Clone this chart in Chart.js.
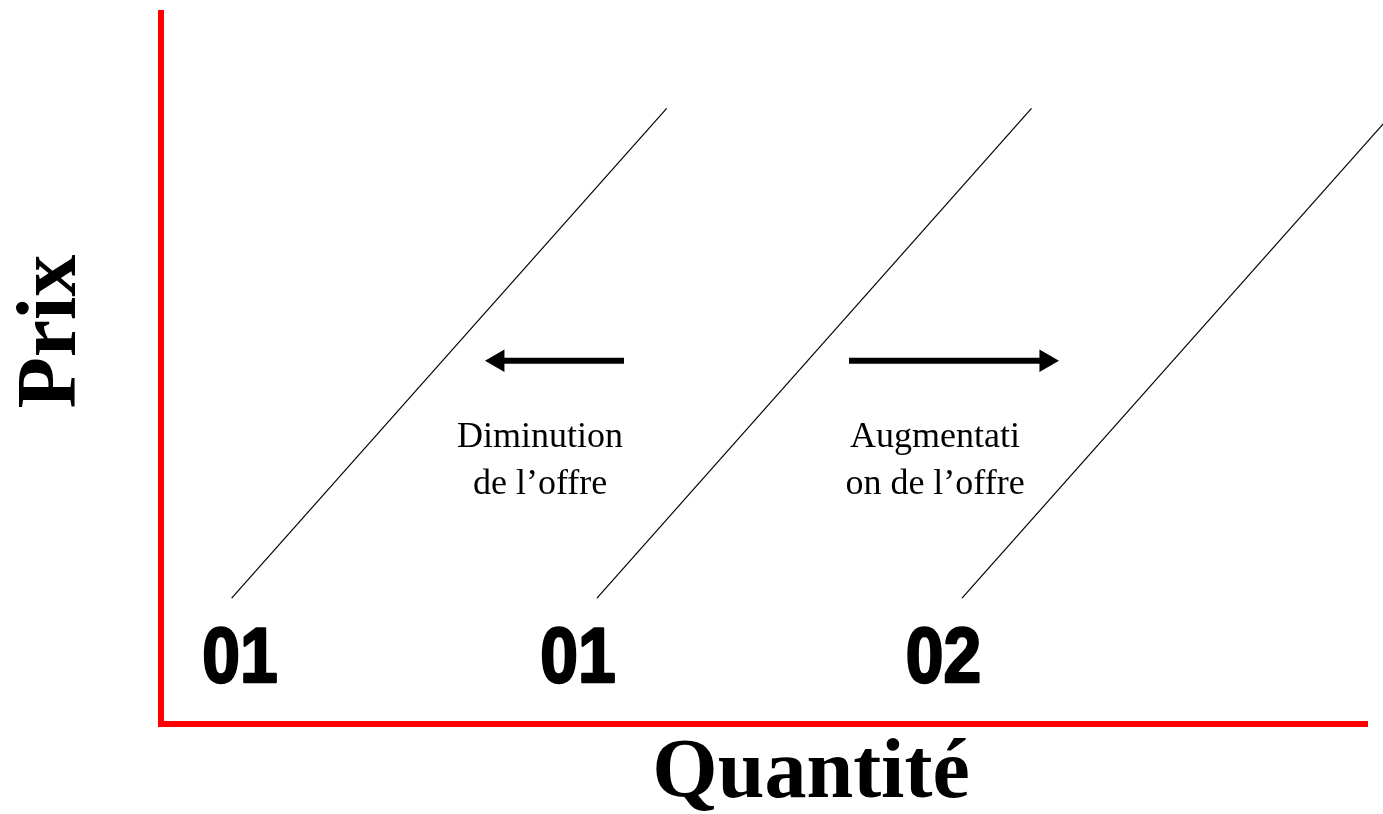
<!DOCTYPE html>
<html>
<head>
<meta charset="utf-8">
<script src="https://cdn.jsdelivr.net/npm/chart.js@4.4.1/dist/chart.umd.min.js"></script>
<style>
  html, body { margin: 0; padding: 0; background: #ffffff; }
  #wrap { width: 1383px; height: 814px; }
</style>
</head>
<body>
<div id="wrap"><canvas id="c" width="1383" height="814"></canvas></div>
<script>
// ---- Data (axis units 0..100) ----
const curveNames = ["O1 (diminution)", "O1", "O2"];
const curveStartX = [5.86, 36.15, 66.42];
const curveEndX   = [41.93, 72.18, 102.5];
const curveStartY = 17.7;
const curveEndY   = 86.6;

const arrowFromX = [38.39, 57.05];
const arrowToX   = [27.94, 73.38];
const arrowY     = [51.1, 51.1];
const arrowDir   = [-90, 90];

const curveLabels  = ["01", "01", "02"];
const curveLabelX  = [6.55, 34.58, 64.88];
const curveLabelY  = 5.9;

const noteLines = [["Diminution", "de l\u2019offre"], ["Augmentati", "on de l\u2019offre"]];
const noteX = [31.43, 64.18];
const noteY = [39.0, 32.4];

const xTitle = "Quantit\u00e9";
const yTitle = "Prix";

// ---- Datasets built from the arrays ----
const datasets = [];
curveNames.forEach((name, i) => {
  datasets.push({
    label: name,
    data: [{x: curveStartX[i], y: curveStartY}, {x: curveEndX[i], y: curveEndY}],
    showLine: true,
    borderColor: "#000000",
    borderWidth: 1.2,
    pointRadius: 0,
    clip: false
  });
});
arrowFromX.forEach((fx, i) => {
  datasets.push({
    label: "arrow" + i,
    data: [{x: fx, y: arrowY[i]}, {x: arrowToX[i], y: arrowY[i]}],
    showLine: true,
    borderColor: "#000000",
    borderWidth: 6,
    borderCapStyle: "butt",
    pointRadius: [0, 13],
    pointStyle: "triangle",
    rotation: [0, arrowDir[i]],
    pointBackgroundColor: "#000000",
    pointBorderColor: "#000000",
    pointBorderWidth: 0,
    clip: false
  });
});

const textPlugin = {
  id: "texts",
  afterDraw(chart) {
    const {ctx, scales: {x, y}} = chart;
    ctx.save();
    ctx.textAlign = "center";
    ctx.textBaseline = "alphabetic";
    ctx.fillStyle = "#000";
    ctx.strokeStyle = "#000";
    // curve labels 01 / 01 / 02
    ctx.font = "bold 77px 'Liberation Sans', Arial, sans-serif";
    ctx.lineWidth = 2.5;
    ctx.lineJoin = "round";
    curveLabels.forEach((t, i) => {
      const px = x.getPixelForValue(curveLabelX[i]);
      const py = y.getPixelForValue(curveLabelY);
      ctx.save();
      ctx.translate(px, py);
      ctx.scale(0.88, 1);
      ctx.strokeText(t, 0, 0);
      ctx.fillText(t, 0, 0);
      ctx.restore();
    });
    // notes
    ctx.font = "36px 'Liberation Serif', 'Times New Roman', serif";
    noteLines.forEach((lines, i) => {
      lines.forEach((t, j) => {
        ctx.fillText(t, x.getPixelForValue(noteX[i]), y.getPixelForValue(noteY[j]));
      });
    });
    // axis titles
    ctx.font = "bold 84px 'Liberation Serif', 'Times New Roman', serif";
    ctx.fillText(xTitle, x.getPixelForValue(53.9), 797);
    ctx.save();
    ctx.translate(75, y.getPixelForValue(55.2));
    ctx.rotate(-Math.PI / 2);
    ctx.fillText(yTitle, 0, 0);
    ctx.restore();
    ctx.restore();
  }
};

new Chart(document.getElementById("c"), {
  type: "scatter",
  data: { datasets },
  options: {
    responsive: false,
    animation: false,
    events: [],
    layout: { padding: { left: 161, right: 16, top: 12, bottom: 90 } },
    plugins: { legend: { display: false }, tooltip: { enabled: false } },
    scales: {
      x: {
        type: "linear", min: 0, max: 100,
        ticks: { display: false },
        grid: { display: false, drawTicks: false },
        border: { display: true, color: "#ff0000", width: 6 },
        afterFit(s) { s.height = 0; }
      },
      y: {
        type: "linear", min: 0, max: 100,
        ticks: { display: false },
        grid: { display: false, drawTicks: false },
        border: { display: true, color: "#ff0000", width: 6 },
        afterFit(s) { s.width = 0; }
      }
    }
  },
  plugins: [textPlugin]
});
</script>
</body>
</html>
